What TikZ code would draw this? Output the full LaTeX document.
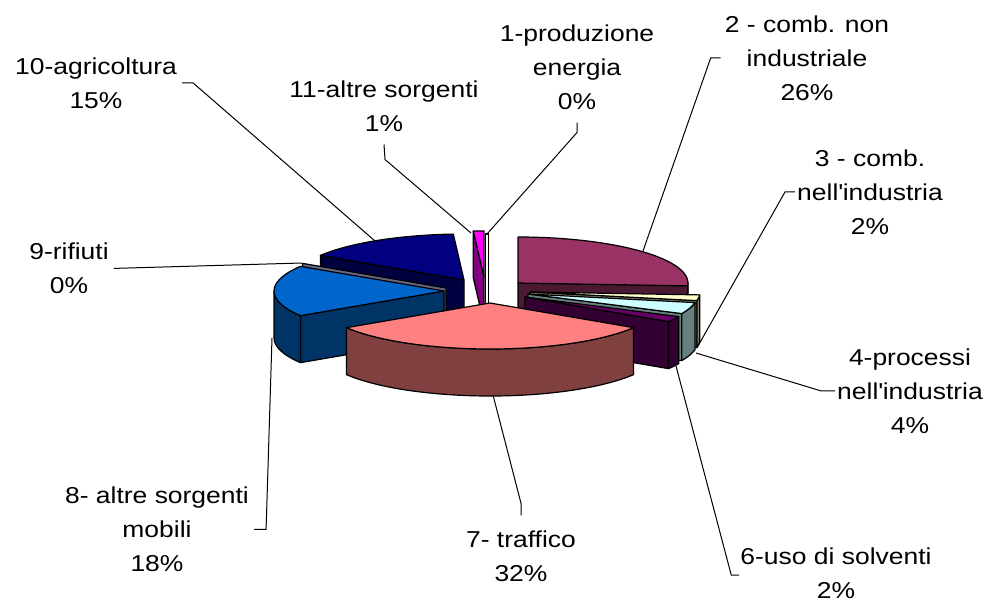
\documentclass[tikz,border=0pt]{standalone}
\usepackage{fontspec}
\setmainfont{Liberation Sans}[FakeStretch=1.15]

% pie colours: top face and side face
\definecolor{plumtop}{HTML}{993366}   \definecolor{plumside}{HTML}{4C1933}
\definecolor{creamtop}{HTML}{FFFFCC}  \definecolor{creamside}{HTML}{808066}
\definecolor{icetop}{HTML}{CCFFFF}    \definecolor{iceside}{HTML}{668080}
\definecolor{purpletop}{HTML}{660066} \definecolor{purpleside}{HTML}{330033}
\definecolor{salmontop}{HTML}{FF8080} \definecolor{salmonside}{HTML}{804040}
\definecolor{bluetop}{HTML}{0066CC}   \definecolor{blueside}{HTML}{003366}
\definecolor{lavside}{HTML}{666680}
\definecolor{navytop}{HTML}{000080}   \definecolor{navyside}{HTML}{000040}
\definecolor{magtop}{HTML}{FF00FF}    \definecolor{magside}{HTML}{800080}

\tikzset{
  pieedge/.style={draw=black, line width=1.2pt, line join=round},
  leader/.style={draw=black, line width=1pt},
  lab/.style={align=center, inner sep=0pt, font=\fontsize{23}{34}\selectfont},
}

% #1 apex, #2 start angle, #3 end angle, #4 colour
\newcommand{\pietop}[4]{\filldraw[pieedge, fill=#4] (#1) -- ++(#2:170 and 46)
  arc[start angle=#2, end angle=#3, x radius=170, y radius=46] -- cycle;}
% cut face: #1 apex, #2 angle, #3 colour
\newcommand{\piecut}[3]{\filldraw[pieedge, fill=#3] (#1) -- ++(0,47)
  -- ++(#2:170 and 46) -- ++(0,-47) -- cycle;}
% outer face: #1 apex, #2 from, #3 to, #4 colour
\newcommand{\pierim}[4]{\filldraw[pieedge, fill=#4] (#1) ++(#2:170 and 46)
  arc[start angle=#2, end angle=#3, x radius=170, y radius=46] -- ++(0,47)
  arc[start angle=#3, end angle=#2, x radius=170, y radius=46] -- cycle;}

\begin{document}
\begin{tikzpicture}[x=1pt, y=-1pt]
  \fill[white] (0,0) rectangle (988,602);
  \useasboundingbox (0,0) rectangle (988,602);

  % apex of every exploded slice
  \coordinate (c1) at (487,280);
  \coordinate (c2) at (518,283);
  \coordinate (c3) at (530,292);
  \coordinate (c4) at (528,294);
  \coordinate (c6) at (525,297);
  \coordinate (c7) at (490,303);
  \coordinate (c8) at (444,291);
  \coordinate (c9) at (446,288);
  \coordinate (c10) at (464,280);
  \coordinate (c11) at (484,277);

  % back slices first
  \piecut{c10}{212.4}{navyside}
  \pietop{c10}{212.4}{266.4}{navytop}
  \piecut{c11}{266.4}{magside}
  \pietop{c11}{266.4}{270}{magtop}
  \filldraw[pieedge, fill=white] ([xshift=-1.5pt]c1 |- 0,234) rectangle ([xshift=1.5pt]c1 |- 0,310);
  \piecut{c2}{3.6}{plumside}
  \pierim{c2}{0}{3.6}{plumside}
  \pietop{c2}{-90}{3.6}{plumtop}
  \piecut{c9}{212.4}{lavside}
  \piecut{c8}{147.6}{blueside}
  \pierim{c8}{147.6}{180}{blueside}
  \pietop{c8}{147.6}{212.4}{bluetop}
  \piecut{c3}{10.8}{creamside}
  \pierim{c3}{3.6}{10.8}{creamside}
  \pietop{c3}{3.6}{10.8}{creamtop}
  \piecut{c4}{25.2}{iceside}
  \pierim{c4}{10.8}{25.2}{iceside}
  \pietop{c4}{10.8}{25.2}{icetop}
  \piecut{c6}{32.4}{purpleside}
  \pierim{c6}{25.2}{32.4}{purpleside}
  \pietop{c6}{25.2}{32.4}{purpletop}
  \pierim{c7}{32.4}{147.6}{salmonside}
  \pietop{c7}{32.4}{147.6}{salmontop}

  % labels
  \node[lab] (lab1) at (577,67.4) {1-produzione\\energia\\0\%};
  \node[lab] (lab2) at (807,57.9) {2 - comb. non\\industriale\\26\%};
  \node[lab] (lab3) at (870,191.9) {3 - comb.\\nell\textquotesingle industria\\2\%};
  \node[lab] (lab4) at (910,390.9) {4-processi\\nell\textquotesingle industria\\4\%};
  \node[lab] (lab6) at (836,573.5) {6-uso di solventi\\2\%};
  \node[lab] (lab7) at (521,555.9) {7- traffico\\32\%};
  \node[lab] (lab8) at (157,529.4) {8- altre sorgenti\\mobili\\18\%};
  \node[lab] (lab9) at (69,268.4) {9-rifiuti\\0\%};
  \node[lab] (lab10) at (96,82.9) {10-agricoltura\\15\%};
  \node[lab] (lab11) at (384,106.4) {11-altre sorgenti\\1\%};

  % leader ends on the slices
  \coordinate (p1) at (487,234);
  \coordinate (p2) at (643,251);
  \coordinate (p3) at (698,346);
  \coordinate (p4) at (696,353);
  \coordinate (p6) at (676,366);
  \coordinate (p7) at (493,395);
  \coordinate (p8) at (272,338);
  \coordinate (p9) at (302,263);
  \coordinate (p10) at (375,241);
  \coordinate (p11) at (471,233);

  \draw[leader] ([yshift=-12.5pt]lab1.south) -- ++(0,10) -- (p1);
  \draw[leader] ([xshift=-4pt]lab2.west) -- ++(-10,0) -- (p2);
  \draw[leader] ([xshift=-2pt]lab3.west) -- ++(-10,0) -- (p3);
  \draw[leader] ([xshift=-2pt]lab4.west) -- ++(-14,0) -- (p4);
  \draw[leader] ([xshift=-1pt,yshift=-1.5pt]lab6.west) -- ++(-8,0) -- (p6);
  \draw[leader] ([yshift=15pt]lab7.north) -- ++(0,-12) -- (p7);
  \draw[leader] ([xshift=5pt]lab8.east) -- ++(12,0) -- (p8);
  \draw[leader] ([xshift=5pt]lab9.east) -- (p9);
  \draw[leader] ([xshift=5pt]lab10.east) -- ++(11,0) -- (p10);
  \draw[leader] ([yshift=-12.5pt]lab11.south) -- ++(1,15) -- (p11);
\end{tikzpicture}
\end{document}
